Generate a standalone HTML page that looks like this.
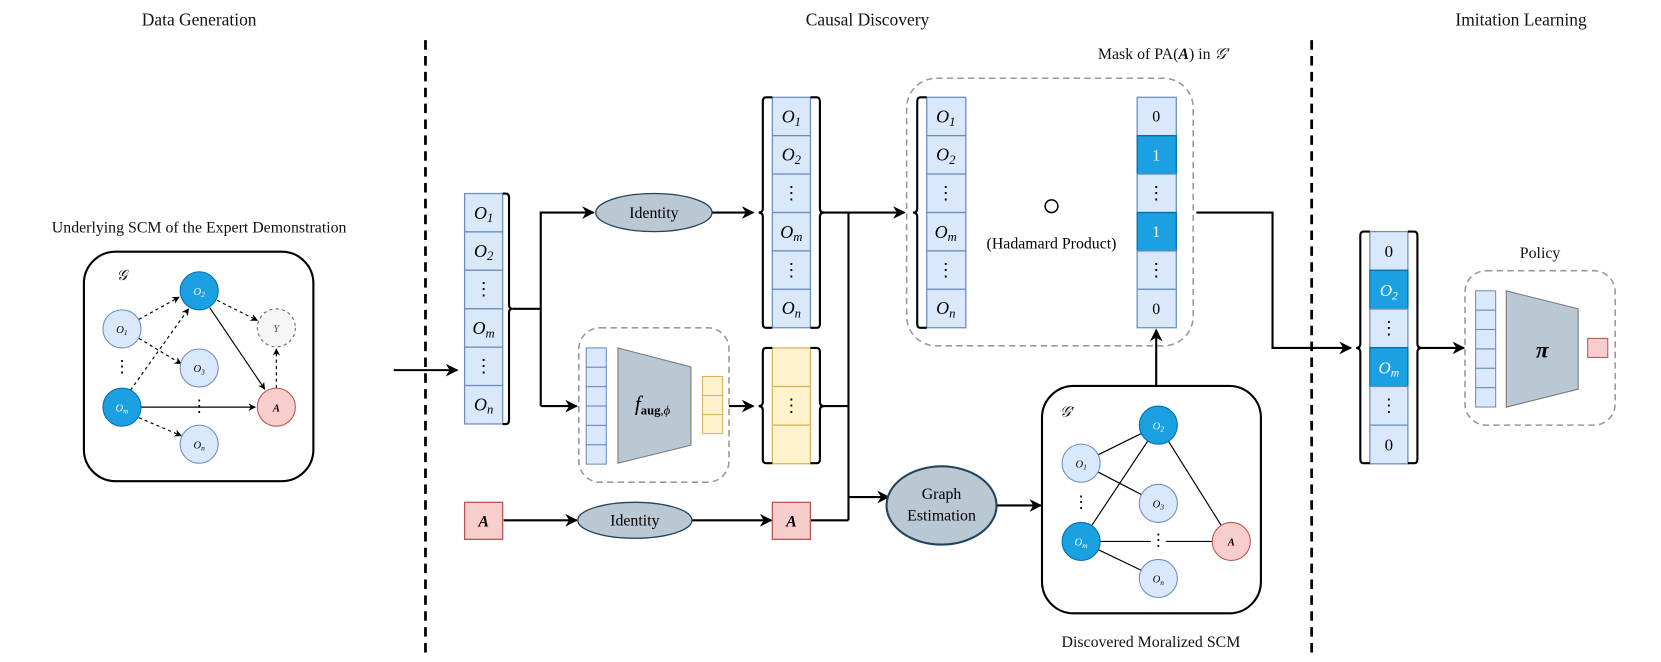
<!DOCTYPE html>
<html><head><meta charset="utf-8"><style>
html,body{margin:0;padding:0;background:#fff;}
svg{display:block;}
text{font-family:"Liberation Serif",serif;}
</style></head><body>
<svg width="1661" height="662" viewBox="0 0 1570 626" xmlns="http://www.w3.org/2000/svg">
<defs>
<marker id="ar" viewBox="0 0 10 10" refX="9" refY="5" markerWidth="7" markerHeight="7" orient="auto" markerUnits="userSpaceOnUse"><path d="M0,0 L10,5 L0,10 L3,5 z" fill="#000"/></marker>
<marker id="ab" viewBox="0 0 10 10" refX="9" refY="5" markerWidth="12" markerHeight="12" orient="auto" markerUnits="userSpaceOnUse"><path d="M0,0 L10,5 L0,10 L3,5 z" fill="#000"/></marker>
</defs>

<!-- titles -->
<g font-size="16.5" text-anchor="middle" fill="#111">
<text x="188" y="24">Data Generation</text>
<text x="820" y="24">Causal Discovery</text>
<text x="1438" y="24">Imitation Learning</text>
<text x="188" y="220" font-size="15">Underlying SCM of the Expert Demonstration</text>
<text x="1088" y="612" font-size="15">Discovered Moralized SCM</text>
<text x="1456" y="244" font-size="15">Policy</text>
<text x="1100" y="56" font-size="15">Mask of PA(<tspan font-weight="bold" font-style="italic">A</tspan>) in <tspan font-style="italic">𝒢′</tspan></text>
</g>

<!-- dashed separators -->
<line x1="402" y1="38" x2="402" y2="622" stroke="#000" stroke-width="2.6" stroke-dasharray="9,6"/>
<line x1="1240" y1="38" x2="1240" y2="622" stroke="#000" stroke-width="2.6" stroke-dasharray="9,6"/>

<!-- left SCM box -->
<rect x="79" y="238" width="217" height="217" rx="30" fill="#fff" stroke="#000" stroke-width="2"/>
<text x="110" y="265" font-size="14" font-style="italic">𝒢</text>
<g stroke="#000" stroke-width="1.1" fill="none">
<line x1="131" y1="302" x2="169" y2="281" stroke-dasharray="3,3" marker-end="url(#ar)"/>
<line x1="131" y1="320" x2="171" y2="344" stroke-dasharray="3,3" marker-end="url(#ar)"/>
<line x1="123" y1="369" x2="178" y2="292" stroke-dasharray="3,3" marker-end="url(#ar)"/>
<line x1="131" y1="395" x2="171" y2="412" stroke-dasharray="3,3" marker-end="url(#ar)"/>
<line x1="133" y1="385" x2="241" y2="385" marker-end="url(#ar)"/>
<line x1="198" y1="291" x2="250" y2="368" marker-end="url(#ar)"/>
<line x1="205" y1="284" x2="243" y2="303" stroke-dasharray="3,3" marker-end="url(#ar)"/>
<line x1="261" y1="367" x2="261" y2="330" stroke-dasharray="3,3" marker-end="url(#ar)"/>
</g>
<g font-size="10" font-style="italic" text-anchor="middle">
<circle cx="188" cy="275" r="18" fill="#1ba1e2" stroke="#006eaf"/><text x="188" y="279" fill="#fff">O<tspan font-size="7" dy="2">2</tspan></text>
<circle cx="115" cy="311" r="18" fill="#dae8fc" stroke="#6c8ebf"/><text x="115" y="315">O<tspan font-size="7" dy="2">1</tspan></text>
<circle cx="188" cy="348" r="18" fill="#dae8fc" stroke="#6c8ebf"/><text x="188" y="352">O<tspan font-size="7" dy="2">3</tspan></text>
<circle cx="115" cy="385" r="18" fill="#1ba1e2" stroke="#006eaf"/><text x="115" y="389" fill="#fff">O<tspan font-size="7" dy="2">m</tspan></text>
<circle cx="188" cy="420" r="18" fill="#dae8fc" stroke="#6c8ebf"/><text x="188" y="424">O<tspan font-size="7" dy="2">n</tspan></text>
<circle cx="261" cy="385" r="18" fill="#f8cecc" stroke="#b85450"/><text x="261" y="389" font-weight="bold">A</text>
<circle cx="261" cy="310" r="18" fill="#f5f5f5" stroke="#666" stroke-dasharray="3,3"/><text x="261" y="314" fill="#555">Y</text>
<text x="115" y="352" font-size="16" font-style="normal">⋮</text>
<text x="188" y="389" font-size="16" font-style="normal">⋮</text>
</g>

<!-- input arrow -->
<line x1="372" y1="350" x2="432" y2="350" stroke="#000" stroke-width="2" marker-end="url(#ab)"/>

<!-- column 1 -->
<g fill="#dae8fc" stroke="#6c8ebf" stroke-width="1.2">
<rect x="439" y="183" width="36" height="36.3"/><rect x="439" y="219.3" width="36" height="36.3"/><rect x="439" y="255.6" width="36" height="36.3"/><rect x="439" y="292" width="36" height="36.3"/><rect x="439" y="328.3" width="36" height="36.3"/><rect x="439" y="364.6" width="36" height="36.3"/>
</g>
<g font-size="17" font-style="italic" text-anchor="middle">
<text x="457" y="207">O<tspan font-size="12" dy="3">1</tspan></text>
<text x="457" y="243">O<tspan font-size="12" dy="3">2</tspan></text>
<text x="457" y="279" font-style="normal">⋮</text>
<text x="457" y="316">O<tspan font-size="12" dy="3">m</tspan></text>
<text x="457" y="352" font-style="normal">⋮</text>
<text x="457" y="388">O<tspan font-size="12" dy="3">n</tspan></text>
</g>
<path d="M475,183 h3 q3,0 3,4 V288 q0,4 3,4 q-3,0 -3,4 V397 q0,4 -3,4 h-3" fill="none" stroke="#000" stroke-width="2"/>

<g stroke="#000" stroke-width="2" fill="none">
<polyline points="484,292 511,292"/>
<polyline points="511,384 511,201 561,201" marker-end="url(#ab)"/>
<polyline points="511,384 545,384" marker-end="url(#ab)"/>
<line x1="673" y1="201" x2="712" y2="201" marker-end="url(#ab)"/>
<line x1="689" y1="384" x2="712" y2="384" marker-end="url(#ab)"/>
<polyline points="775,201 802,201 802,492"/>
<line x1="775" y1="384" x2="802" y2="384"/>
<line x1="802" y1="201" x2="855" y2="201" marker-end="url(#ab)"/>
<line x1="766" y1="492" x2="802" y2="492"/>
<line x1="802" y1="470" x2="840" y2="470" marker-end="url(#ab)"/>
<line x1="476" y1="492" x2="545" y2="492" marker-end="url(#ab)"/>
<line x1="654" y1="492" x2="729" y2="492" marker-end="url(#ab)"/>
<line x1="942" y1="478" x2="984" y2="478" marker-end="url(#ab)"/>
<line x1="1093" y1="365" x2="1093" y2="312" marker-end="url(#ab)"/>
<polyline points="1131,201 1203,201 1203,329 1277,329" marker-end="url(#ab)"/>
<line x1="1341" y1="329" x2="1384" y2="329" marker-end="url(#ab)"/>
</g>

<!-- Identity ellipses -->
<ellipse cx="618" cy="201" rx="55" ry="18" fill="#bac8d3" stroke="#23445d" stroke-width="1.2"/>
<text x="618" y="206" font-size="15" text-anchor="middle">Identity</text>
<ellipse cx="600" cy="492" rx="54" ry="17" fill="#bac8d3" stroke="#23445d" stroke-width="1.2"/>
<text x="600" y="497" font-size="15" text-anchor="middle">Identity</text>

<!-- column 2 -->
<g fill="#dae8fc" stroke="#6c8ebf" stroke-width="1.2">
<rect x="730" y="92" width="36" height="36.3"/><rect x="730" y="128.3" width="36" height="36.3"/><rect x="730" y="164.6" width="36" height="36.3"/><rect x="730" y="201" width="36" height="36.3"/><rect x="730" y="237.3" width="36" height="36.3"/><rect x="730" y="273.6" width="36" height="36.3"/>
</g>
<g font-size="17" font-style="italic" text-anchor="middle">
<text x="748" y="116">O<tspan font-size="12" dy="3">1</tspan></text>
<text x="748" y="152">O<tspan font-size="12" dy="3">2</tspan></text>
<text x="748" y="188" font-style="normal">⋮</text>
<text x="748" y="225">O<tspan font-size="12" dy="3">m</tspan></text>
<text x="748" y="261" font-style="normal">⋮</text>
<text x="748" y="297">O<tspan font-size="12" dy="3">n</tspan></text>
</g>
<path d="M730,92 h-6 q-3,0 -3,4 V197 q0,4 -4,4 q4,0 4,4 V306 q0,4 3,4 h6" fill="none" stroke="#000" stroke-width="2"/>
<path d="M766,92 h6 q3,0 3,4 V197 q0,4 4,4 q-4,0 -4,4 V306 q0,4 -3,4 h-6" fill="none" stroke="#000" stroke-width="2"/>

<!-- f_aug box -->
<rect x="547" y="310" width="142" height="146" rx="20" fill="none" stroke="#999" stroke-width="1.5" stroke-dasharray="6,4"/>
<g fill="#dae8fc" stroke="#6c8ebf" stroke-width="1">
<rect x="554" y="329" width="19" height="18.3"/><rect x="554" y="347.3" width="19" height="18.3"/><rect x="554" y="365.6" width="19" height="18.3"/><rect x="554" y="384" width="19" height="18.3"/><rect x="554" y="402.3" width="19" height="18.3"/><rect x="554" y="420.6" width="19" height="18.3"/>
</g>
<polygon points="584,329 653,347 653,421 584,438" fill="#bac8d3" stroke="#777" stroke-width="1"/>
<text x="600" y="388" font-size="20" font-style="italic">f<tspan font-size="12" dy="4" font-style="normal" font-weight="bold">aug</tspan><tspan font-size="12" dy="0" font-style="normal">,</tspan><tspan font-size="12" font-style="italic">ϕ</tspan></text>
<g fill="#fff2cc" stroke="#d6b656" stroke-width="1">
<rect x="664" y="356" width="19" height="18"/><rect x="664" y="374" width="19" height="18"/><rect x="664" y="392" width="19" height="18"/>
</g>
<!-- yellow column -->
<g fill="#fff2cc" stroke="#d6b656" stroke-width="1.2">
<rect x="730" y="329" width="36" height="36.5"/><rect x="730" y="365.5" width="36" height="36.5"/><rect x="730" y="402" width="36" height="36.5"/>
</g>
<text x="748" y="389" font-size="17" text-anchor="middle">⋮</text>
<path d="M730,329 h-6 q-3,0 -3,4 V380 q0,4 -4,4 q4,0 4,4 V434 q0,4 3,4 h6" fill="none" stroke="#000" stroke-width="2"/>
<path d="M766,329 h6 q3,0 3,4 V380 q0,4 4,4 q-4,0 -4,4 V434 q0,4 -3,4 h-6" fill="none" stroke="#000" stroke-width="2"/>

<!-- A squares -->
<rect x="439" y="475" width="36" height="35" fill="#f8cecc" stroke="#b85450" stroke-width="1.2"/>
<text x="457" y="498" font-size="15" font-style="italic" font-weight="bold" text-anchor="middle">A</text>
<rect x="730" y="475" width="36" height="35" fill="#f8cecc" stroke="#b85450" stroke-width="1.2"/>
<text x="748" y="498" font-size="15" font-style="italic" font-weight="bold" text-anchor="middle">A</text>

<!-- Graph Estimation -->
<ellipse cx="890" cy="478" rx="52" ry="37" fill="#bac8d3" stroke="#23445d" stroke-width="2"/>
<text x="890" y="472" font-size="15" text-anchor="middle">Graph</text>
<text x="890" y="492" font-size="15" text-anchor="middle">Estimation</text>

<!-- Hadamard box -->
<rect x="857" y="74" width="271" height="253" rx="28" fill="none" stroke="#999" stroke-width="1.5" stroke-dasharray="6,4"/>
<g fill="#dae8fc" stroke="#6c8ebf" stroke-width="1.2">
<rect x="876" y="92" width="37" height="36.3"/><rect x="876" y="128.3" width="37" height="36.3"/><rect x="876" y="164.6" width="37" height="36.3"/><rect x="876" y="201" width="37" height="36.3"/><rect x="876" y="237.3" width="37" height="36.3"/><rect x="876" y="273.6" width="37" height="36.3"/>
<rect x="1075" y="92" width="37" height="36.3"/><rect x="1075" y="128.3" width="37" height="36.3" fill="#1ba1e2" stroke="#006eaf"/><rect x="1075" y="164.6" width="37" height="36.3"/><rect x="1075" y="201" width="37" height="36.3" fill="#1ba1e2" stroke="#006eaf"/><rect x="1075" y="237.3" width="37" height="36.3"/><rect x="1075" y="273.6" width="37" height="36.3"/>
</g>
<path d="M876,92 h-6 q-3,0 -3,4 V197 q0,4 -4,4 q4,0 4,4 V306 q0,4 3,4 h6" fill="none" stroke="#000" stroke-width="2"/>
<g font-size="17" font-style="italic" text-anchor="middle">
<text x="894" y="116">O<tspan font-size="12" dy="3">1</tspan></text>
<text x="894" y="152">O<tspan font-size="12" dy="3">2</tspan></text>
<text x="894" y="188" font-style="normal">⋮</text>
<text x="894" y="225">O<tspan font-size="12" dy="3">m</tspan></text>
<text x="894" y="261" font-style="normal">⋮</text>
<text x="894" y="297">O<tspan font-size="12" dy="3">n</tspan></text>
</g>
<g font-size="15" text-anchor="middle">
<text x="1093" y="115">0</text>
<text x="1093" y="152" fill="#fff">1</text>
<text x="1093" y="188" font-size="17">⋮</text>
<text x="1093" y="224" fill="#fff">1</text>
<text x="1093" y="261" font-size="17">⋮</text>
<text x="1093" y="297">0</text>
</g>
<circle cx="994" cy="195" r="6" fill="none" stroke="#000" stroke-width="1.5"/>
<text x="994" y="235" font-size="15" text-anchor="middle">(Hadamard Product)</text>

<!-- G' box -->
<rect x="985" y="365" width="207" height="215" rx="30" fill="#fff" stroke="#000" stroke-width="2"/>
<text x="1002" y="394" font-size="14" font-style="italic">𝒢′</text>
<g stroke="#000" stroke-width="1.1">
<line x1="1022" y1="438" x2="1095" y2="402"/>
<line x1="1022" y1="438" x2="1095" y2="476"/>
<line x1="1022" y1="512" x2="1095" y2="402"/>
<line x1="1022" y1="512" x2="1164" y2="512"/>
<line x1="1022" y1="512" x2="1095" y2="547"/>
<line x1="1095" y1="402" x2="1164" y2="512"/>
</g>
<g font-size="10" font-style="italic" text-anchor="middle">
<circle cx="1095" cy="402" r="18" fill="#1ba1e2" stroke="#006eaf"/><text x="1095" y="406" fill="#fff">O<tspan font-size="7" dy="2">2</tspan></text>
<circle cx="1022" cy="438" r="18" fill="#dae8fc" stroke="#6c8ebf"/><text x="1022" y="442">O<tspan font-size="7" dy="2">1</tspan></text>
<circle cx="1095" cy="476" r="18" fill="#dae8fc" stroke="#6c8ebf"/><text x="1095" y="480">O<tspan font-size="7" dy="2">3</tspan></text>
<circle cx="1022" cy="512" r="18" fill="#1ba1e2" stroke="#006eaf"/><text x="1022" y="516" fill="#fff">O<tspan font-size="7" dy="2">m</tspan></text>
<circle cx="1095" cy="547" r="18" fill="#dae8fc" stroke="#6c8ebf"/><text x="1095" y="551">O<tspan font-size="7" dy="2">n</tspan></text>
<circle cx="1164" cy="512" r="18" fill="#f8cecc" stroke="#b85450"/><text x="1164" y="516" font-weight="bold">A</text>
<rect x="1088" y="500" width="14" height="16" fill="#fff"/>
<text x="1022" y="480" font-size="16" font-style="normal">⋮</text>
<text x="1095" y="516" font-size="16" font-style="normal">⋮</text>
</g>

<!-- final column -->
<g fill="#dae8fc" stroke="#6c8ebf" stroke-width="1.2">
<rect x="1295" y="219" width="36" height="36.6"/><rect x="1295" y="255.6" width="36" height="36.6" fill="#1ba1e2" stroke="#006eaf"/><rect x="1295" y="292.2" width="36" height="36.6"/><rect x="1295" y="328.8" width="36" height="36.6" fill="#1ba1e2" stroke="#006eaf"/><rect x="1295" y="365.4" width="36" height="36.6"/><rect x="1295" y="402" width="36" height="36.6"/>
</g>
<g font-size="16" text-anchor="middle">
<text x="1313" y="243">0</text>
<text x="1313" y="280" fill="#fff" font-style="italic">O<tspan font-size="11" dy="3">2</tspan></text>
<text x="1313" y="316" font-size="17">⋮</text>
<text x="1313" y="353" fill="#fff" font-style="italic">O<tspan font-size="11" dy="3">m</tspan></text>
<text x="1313" y="389" font-size="17">⋮</text>
<text x="1313" y="426">0</text>
</g>
<path d="M1295,219 h-6 q-3,0 -3,4 V325 q0,4 -4,4 q4,0 4,4 V434 q0,4 3,4 h6" fill="none" stroke="#000" stroke-width="2"/>
<path d="M1331,219 h6 q3,0 3,4 V325 q0,4 4,4 q-4,0 -4,4 V434 q0,4 -3,4 h-6" fill="none" stroke="#000" stroke-width="2"/>

<!-- policy -->
<rect x="1385" y="256" width="142" height="146" rx="20" fill="none" stroke="#999" stroke-width="1.5" stroke-dasharray="6,4"/>
<g fill="#dae8fc" stroke="#6c8ebf" stroke-width="1">
<rect x="1395" y="275" width="19" height="18.3"/><rect x="1395" y="293.3" width="19" height="18.3"/><rect x="1395" y="311.6" width="19" height="18.3"/><rect x="1395" y="330" width="19" height="18.3"/><rect x="1395" y="348.3" width="19" height="18.3"/><rect x="1395" y="366.6" width="19" height="18.3"/>
</g>
<polygon points="1424,275 1492,292 1492,368 1424,385" fill="#bac8d3" stroke="#777" stroke-width="1"/>
<text x="1458" y="338" font-size="22" font-weight="bold" font-style="italic" text-anchor="middle">π</text>
<rect x="1501" y="320" width="19" height="18" fill="#f8cecc" stroke="#b85450" stroke-width="1"/>
</svg>
</body></html>
